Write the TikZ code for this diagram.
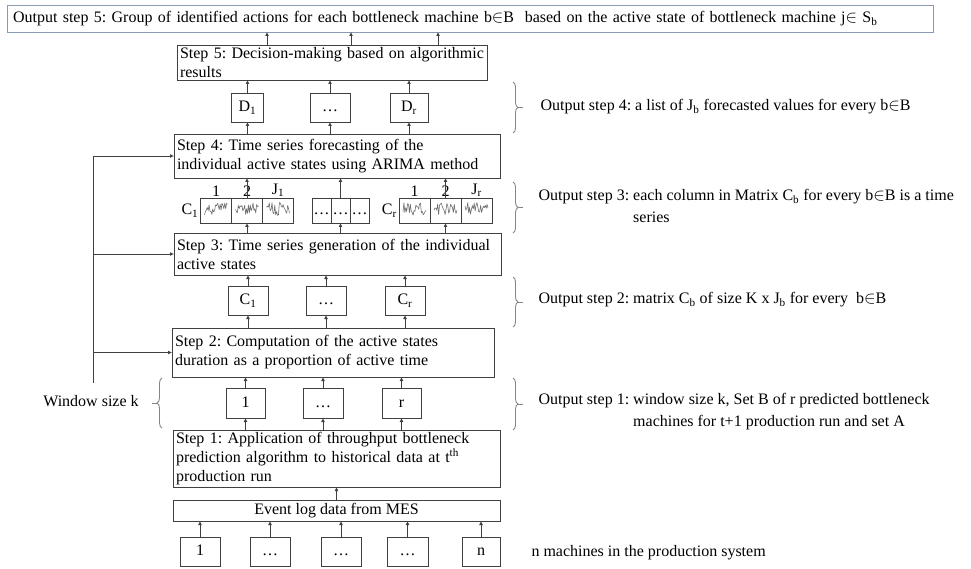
\documentclass[tikz,border=0pt]{standalone}
\usepackage{fontspec}
\setmainfont{Liberation Serif}
\usetikzlibrary{arrows.meta,calc,decorations.pathmorphing,decorations.pathreplacing,positioning}
\definecolor{cline}{HTML}{404040}
\definecolor{cbrace}{HTML}{858585}
\definecolor{ctop}{HTML}{8A9AB3}
\definecolor{cspark}{HTML}{6E6E6E}
\frenchspacing

\begin{document}
\begin{tikzpicture}[x=1pt, y=-1pt,
    font=\fontsize{16}{19}\selectfont,
    box/.style={draw=cline, line width=0.9pt, inner sep=0pt, outer sep=0pt, align=center,
      text height=11.5pt, text depth=3pt},
    stepbox/.style={draw=cline, line width=0.9pt, align=left, inner xsep=3pt, inner ysep=0pt, outer sep=0pt},
    cell/.style={box, minimum height=25, text height=11pt, text depth=2pt},
    lbl/.style={inner sep=1pt},
    arr/.style={-{Latex[length=4pt, width=4pt]}, cline, line width=0.9pt},
    brc/.style={cbrace, line width=0.9pt, decorate, decoration={brace, amplitude=5pt}},
    spark/.style={cspark, line width=0.6pt, line join=round},
    outtxt/.style={anchor=west, align=left}]
  \useasboundingbox (0,0) rectangle (971,569);
  \pgfmathsetseed{11}

  % output of the last step
  \node[stepbox, draw=ctop, text width=920, minimum height=27] (out5) at (470,18.5)
    {\hspace{3pt}Output step 5: Group of identified actions for each bottleneck machine b$\in$B\ \ based on the active state of bottleneck machine j$\in$ S\textsubscript{b}};

  % step 5 and its inputs
  \node[stepbox, text width=304, minimum height=35] (s5) at (332,62.5)
    {Step 5: Decision-making based on algorithmic\\results};
  \node[box, minimum width=32, minimum height=29] (D1) at (247.5,107.5) {D\textsubscript{1}};
  \node[box, minimum width=40, minimum height=29] (Dm) at (330,107.5) {\dots};
  \node[box, minimum width=38, minimum height=29] (Dr) at (409,107.5) {D\textsubscript{r}};

  % step 4
  \node[stepbox, text width=320, minimum height=44] (s4) at (337,156)
    {Step 4: Time series forecasting of the\\individual active states using ARIMA method};

  % matrices of time series
  \node[cell, minimum width=31] (C1a) at (216,210.5) {};
  \node[cell, minimum width=31, right=0pt of C1a] (C1b) {};
  \node[cell, minimum width=31, right=0pt of C1b] (C1c) {};
  \node[cell, minimum width=19] (Cma) at (321.5,210.5) {\dots};
  \node[cell, minimum width=19, right=0pt of Cma] (Cmb) {\dots};
  \node[cell, minimum width=19, right=0pt of Cmb] (Cmc) {\dots};
  \node[cell, minimum width=31] (Cra) at (414.5,210.5) {};
  \node[cell, minimum width=31, right=0pt of Cra] (Crb) {};
  \node[cell, minimum width=31, right=0pt of Crb] (Crc) {};
  \foreach \c in {C1a,C1b,C1c,Cra,Crb,Crc}
    \draw[spark, shift={(\c.west)}] plot[domain=4:27, samples=26] (\x, {-1.5+13*(rnd-0.5)});
  \node[lbl, above=0pt of C1a] (l1a) {1};
  \node[lbl, above=0pt of C1b] (l1b) {2};
  \node[lbl, above=0pt of C1c] (l1c) {J\textsubscript{1}};
  \node[lbl, above=0pt of Cra] (lra) {1};
  \node[lbl, above=0pt of Crb] (lrb) {2};
  \node[lbl, above=0pt of Crc] (lrc) {J\textsubscript{r}};
  \node[lbl, left=1pt of C1a] (lC1) {C\textsubscript{1}};
  \node[lbl, left=1pt of Cra] (lCr) {C\textsubscript{r}};

  % step 3
  \node[stepbox, text width=321, minimum height=42] (s3) at (337.5,254)
    {Step 3: Time series generation of the individual\\active states};
  \node[box, minimum width=40, minimum height=29] (C1) at (248,300.5) {C\textsubscript{1}};
  \node[box, minimum width=40, minimum height=29] (Cm) at (326,300.5) {\dots};
  \node[box, minimum width=40, minimum height=29] (Cr) at (405,300.5) {C\textsubscript{r}};

  % step 2
  \node[stepbox, text width=316, minimum height=49] (s2) at (333,352.5)
    {Step 2: Computation of the active states\\duration as a proportion of active time};
  \node[box, minimum width=39, minimum height=30] (R1) at (245.5,403) {1};
  \node[box, minimum width=40, minimum height=30] (Rm) at (323,403) {\dots};
  \node[box, minimum width=39, minimum height=30] (Rr) at (401.5,403) {r};

  % step 1 and data
  \node[stepbox, text width=321, minimum height=57] (s1) at (336.5,458.5)
    {Step 1: Application of throughput bottleneck\\prediction algorithm to historical data at t\textsuperscript{th}\\production run};
  \node[box, minimum width=327, minimum height=21] (log) at (336.5,510.5) {Event log data from MES};
  \node[box, minimum width=40, minimum height=29] (M1) at (200,551.5) {1};
  \node[box, minimum width=40, minimum height=29] (M2) at (270,551.5) {\dots};
  \node[box, minimum width=40, minimum height=29] (M3) at (341,551.5) {\dots};
  \node[box, minimum width=41, minimum height=29] (M4) at (407.5,551.5) {\dots};
  \node[box, minimum width=38, minimum height=29] (M5) at (481,551.5) {n};

  % arrows
  \coordinate (u1) at (267,0);
  \coordinate (u2) at (351,0);
  \coordinate (u3) at (438,0);
  \foreach \u in {u1,u2,u3}
    \draw[arr] (s5.north -| \u) -- (out5.south -| \u);
  \foreach \d in {D1,Dm,Dr} {
    \draw[arr] (s4.north -| \d) -- (\d.south);
    \draw[arr] (\d.north) -- (\d.north |- s5.south);
  }
  \foreach \c in {C1b,Cmb,Crb} {
    \draw[arr] (s3.north -| \c) -- (\c.south);
    \draw[arr] (\c.north) -- (\c.north |- s4.south);
  }
  \foreach \c in {C1,Cm,Cr} {
    \draw[arr] (s2.north -| \c) -- (\c.south);
    \draw[arr] (\c.north) -- (\c.north |- s3.south);
  }
  \foreach \r in {R1,Rm,Rr} {
    \draw[arr] (s1.north -| \r) -- (\r.south);
    \draw[arr] (\r.north) -- (\r.north |- s2.south);
  }
  \draw[arr] (log.north) -- (log.north |- s1.south);
  \foreach \m in {M1,M2,M3,M4,M5}
    \draw[arr] (\m.north) -- (\m.north |- log.south);

  % window size k
  \node (win) at (91,401) {Window size k};
  \coordinate (wl) at (93,383);
  \draw[cline, line width=0.9pt] (wl) -- (wl |- s4.west);
  \foreach \s in {s4,s3,s2}
    \draw[arr] (wl |- \s.west) -- (\s.west);
  \draw[brc] (162,428) -- (162,378);
  \draw[cbrace, line width=0.9pt] (157,403) -- (152,403);

  % outputs of the steps
  \foreach \t/\b in {82/133, 182/233, 277/327, 378/430} {
    \draw[brc] (513,\t) -- (513,\b);
    \draw[cbrace, line width=0.9pt] (518,{(\t+\b)/2}) -- (523,{(\t+\b)/2});
  }
  \node[outtxt] (o4) at (537,107)
    {Output step 4: a list of J\textsubscript{b} forecasted values for every b$\in$B};
  \node[outtxt, font=\fontsize{16}{22}\selectfont] (o3) at (535,206)
    {Output step 3: each column in Matrix C\textsubscript{b} for every b$\in$B is a time\\\hphantom{Output step 3: }series};
  \node[outtxt] (o2) at (535,300)
    {Output step 2: matrix C\textsubscript{b} of size K x J\textsubscript{b} for every\ \ b$\in$B};
  \node[outtxt, font=\fontsize{16}{22}\selectfont] (o1) at (535,412)
    {Output step 1: window size k, Set B of r predicted bottleneck\\\hphantom{Output step 1: }machines for t+1 production run and set A};
  \node[outtxt] (mach) at (528,553) {n machines in the production system};
\end{tikzpicture}
\end{document}
